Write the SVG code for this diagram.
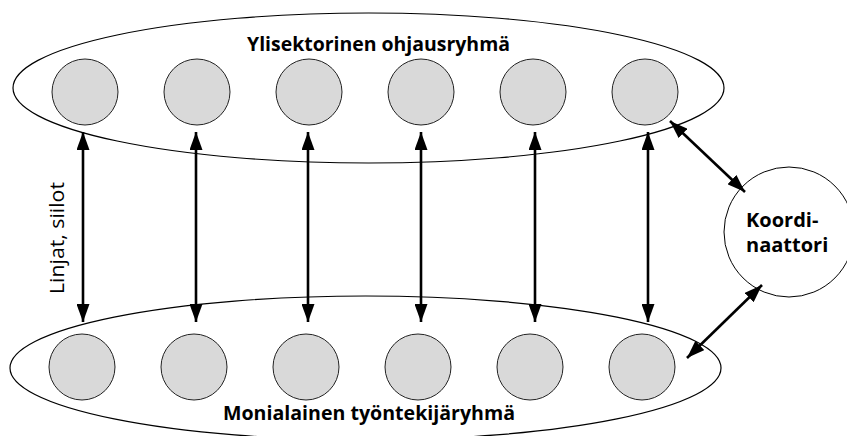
<svg xmlns="http://www.w3.org/2000/svg" width="847" height="436" viewBox="0 0 847 436">
<defs>
<marker id="ah" viewBox="0 0 18 13" refX="18" refY="6.5" markerWidth="18" markerHeight="13" markerUnits="userSpaceOnUse" orient="auto-start-reverse">
<path d="M0,0 L18,6.5 L0,13 Z" fill="#000"/>
</marker>
<style>
.grp{fill:none;stroke:#000;stroke-width:1.2}
.mem{fill:#d9d9d9;stroke:#222;stroke-width:1}
.con{stroke:#000;stroke-width:2.6;fill:none;marker-start:url(#ah);marker-end:url(#ah)}
.bt{font-family:"Open Sans","Noto Sans",sans-serif;font-weight:bold;font-size:19.5px;fill:#000}
.ct{font-family:"Open Sans","Noto Sans",sans-serif;font-weight:bold;font-size:20px;fill:#000}
.lt{font-family:"Open Sans","Noto Sans",sans-serif;font-size:20px;fill:#000}
</style>
</defs>
<rect width="847" height="436" fill="#fff"/>
<g id="top-group">
<ellipse class="grp" cx="368.5" cy="88" rx="355.5" ry="75"/>
<text class="bt" x="378.5" y="51" text-anchor="middle" textLength="263" lengthAdjust="spacingAndGlyphs">Ylisektorinen ohjausryhmä</text>
</g>
<g id="bottom-group">
<ellipse class="grp" cx="365.5" cy="368" rx="355.5" ry="72"/>
<text class="bt" x="369" y="420" text-anchor="middle" textLength="292" lengthAdjust="spacingAndGlyphs">Monialainen työntekijäryhmä</text>
</g>
<g id="t1"><circle class="mem" cx="85" cy="92" r="33"/></g>
<g id="t2"><circle class="mem" cx="197" cy="92" r="33"/></g>
<g id="t3"><circle class="mem" cx="309" cy="92" r="33"/></g>
<g id="t4"><circle class="mem" cx="421" cy="92" r="33"/></g>
<g id="t5"><circle class="mem" cx="533" cy="92" r="33"/></g>
<g id="t6"><circle class="mem" cx="645" cy="92" r="33"/></g>
<g id="b1"><circle class="mem" cx="82" cy="367" r="33"/></g>
<g id="b2"><circle class="mem" cx="194" cy="367" r="33"/></g>
<g id="b3"><circle class="mem" cx="306" cy="367" r="33"/></g>
<g id="b4"><circle class="mem" cx="418" cy="367" r="33"/></g>
<g id="b5"><circle class="mem" cx="530" cy="367" r="33"/></g>
<g id="b6"><circle class="mem" cx="642" cy="367" r="33"/></g>
<g id="coordinator">
<circle cx="789" cy="232" r="65" fill="#fff" stroke="#000" stroke-width="1"/>
<text class="ct" x="746" y="227">Koordi-</text>
<text class="ct" x="746" y="252">naattori</text>
</g>
<g id="connectors">
<line class="con" x1="83" y1="132" x2="83" y2="322"/>
<line class="con" x1="196" y1="132" x2="196" y2="322"/>
<line class="con" x1="308" y1="132" x2="308" y2="322"/>
<line class="con" x1="421" y1="132" x2="421" y2="322"/>
<line class="con" x1="535" y1="132" x2="535" y2="322"/>
<line class="con" x1="648" y1="132" x2="648" y2="322"/>
<line class="con" x1="670" y1="121" x2="745" y2="192"/>
<line class="con" x1="762" y1="285" x2="687" y2="358"/>
<text class="lt" transform="translate(64,238) rotate(-90)" text-anchor="middle" textLength="112" lengthAdjust="spacingAndGlyphs">Linjat, siilot</text>
</g>
</svg>
